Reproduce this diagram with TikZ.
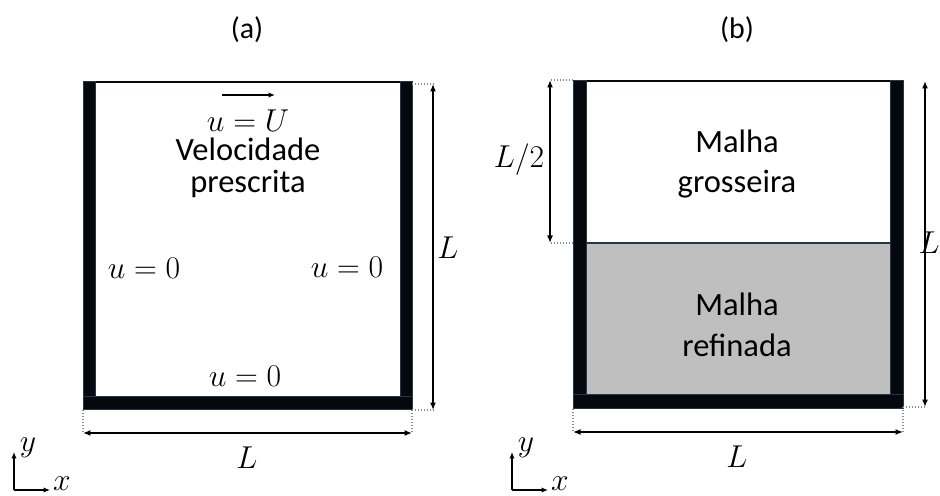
\RequirePackage{fix-cm}
\documentclass[tikz,border=0pt]{standalone}
\usepackage{fontspec}
\setmainfont{Carlito}
\usepackage{amsmath}
\usetikzlibrary{arrows.meta, positioning, calc}
\definecolor{wallblack}{HTML}{05080C}
\definecolor{walledge}{HTML}{22384A}
\definecolor{finegray}{HTML}{BFBFBF}
\definecolor{guidegray}{HTML}{8C8C8C}

\begin{document}
\begin{tikzpicture}[
  x=0.02cm, y=-0.02cm,
  wall/.style={fill=wallblack, draw=walledge, line width=0.4pt},
  lid/.style={draw=wallblack, line width=1.5pt},
  dim/.style={{Latex[length=1.5mm,width=1.2mm]}-{Latex[length=1.5mm,width=1.2mm]}, line width=0.8pt},
  guide/.style={draw=guidegray, densely dotted, line width=0.7pt},
  axis/.style={-{Latex[length=1.3mm,width=1.1mm]}, line width=0.7pt},
  title/.style={font=\fontsize{17}{20}\selectfont, inner sep=0pt},
  lbl/.style={font=\fontsize{18.5}{23.3}\selectfont, align=center, inner sep=0pt},
  math/.style={font=\fontsize{18}{21}\selectfont, inner sep=0pt}
]
\useasboundingbox (0,0) rectangle (940,496);

% panel (a)
\node[title] (ta) at (247,30) {(a)};
\draw[lid] (83,82) -- (412,82);
\fill[wall] (83,81) rectangle (95,409);
\fill[wall] (400,81) rectangle (412,409);
\fill[wall] (83,396) rectangle (412,409);
\draw[wall] (83,81) rectangle (95,409);
\draw[wall] (400,81) rectangle (412,409);
\draw[wall] (83,396) rectangle (412,409);

\coordinate (lidL) at (222,95);
\coordinate (lidR) at (275,95);
\draw[axis] (lidL) -- (lidR);
\node[math] (uU) at (248,121) {$u = U$};
\node[lbl, font=\fontsize{18.5}{18.2}\selectfont] (vp) at (248,168) {Velocidade\\prescrita};
\node[math] (u0l) at (144,268) {$u = 0$};
\node[math] (u0r) at (347,267) {$u = 0$};
\node[math] (u0b) at (245,376) {$u = 0$};

% dimensions (a)
\coordinate (aTR) at (412,84);
\coordinate (aBR) at (412,410);
\coordinate (aBL) at (83,410);
\coordinate (aVT) at (433,84);
\coordinate (aVB) at (433,410);
\coordinate (aHL) at (83,433);
\coordinate (aHR) at (412,433);
\draw[guide] (aTR) -- (aVT);
\draw[guide] (aBR) -- (aVB);
\draw[guide] (aBL) -- (aHL);
\draw[guide] (aBR) -- (aHR);
\draw[dim] (aVT) -- (aVB);
\draw[dim] (aHL) -- (aHR);
\node[math] (aLv) at (448,248) {$L$};
\node[math] (aLh) at (247,458) {$L$};

% axes (a)
\coordinate (aO) at (14,490);
\coordinate (aY) at (14,452);
\coordinate (aX) at (50,490);
\draw[axis] (aO) -- (aY);
\draw[axis] (aO) -- (aX);
\node[math] (ay) at (28,448) {$y$};
\node[math] (ax) at (62,484) {$x$};

% panel (b)
\node[title] (tb) at (737,30) {(b)};
\fill[finegray] (586,243) rectangle (890,394);
\draw[walledge, line width=0.6pt] (586,243) -- (890,243);
\draw[lid] (573,81) -- (903,81);
\fill[wall] (573,80) rectangle (586,408);
\fill[wall] (890,80) rectangle (903,408);
\fill[wall] (573,394) rectangle (903,408);
\draw[wall] (573,80) rectangle (586,408);
\draw[wall] (890,80) rectangle (903,408);
\draw[wall] (573,394) rectangle (903,408);

\node[lbl] (mg) at (737,164) {Malha\\grosseira};
\node[lbl] (mr) at (737,325) {Malha\\refinada};

% dimensions (b)
\coordinate (bTL) at (573,80);
\coordinate (bML) at (573,243);
\coordinate (bBL) at (573,409);
\coordinate (bBR) at (903,407);
\coordinate (bHT) at (550,80);
\coordinate (bHM) at (550,243);
\coordinate (bRT) at (925,81);
\coordinate (bRB) at (925,407);
\coordinate (bXL) at (573,432);
\coordinate (bXR) at (903,432);
\draw[guide] (bTL) -- (bHT);
\draw[guide] (bML) -- (bHM);
\draw[guide] (bBR) -- (bRB);
\draw[guide] (bBL) -- (bXL);
\draw[guide] (bBR) -- (bXR);
\draw[dim] (bHT) -- (bHM);
\draw[dim] (bRT) -- (bRB);
\draw[dim] (bXL) -- (bXR);
\node[math] (bL2) at (519,160) {$L/2$};
\node[math, anchor=east] (bLv) at (940,243) {$L$};
\node[math] (bLh) at (737,457) {$L$};

% axes (b)
\coordinate (bO) at (512,490);
\coordinate (bY) at (512,452);
\coordinate (bX) at (548,490);
\draw[axis] (bO) -- (bY);
\draw[axis] (bO) -- (bX);
\node[math] (by) at (526,448) {$y$};
\node[math] (bx) at (560,484) {$x$};
\end{tikzpicture}
\end{document}
